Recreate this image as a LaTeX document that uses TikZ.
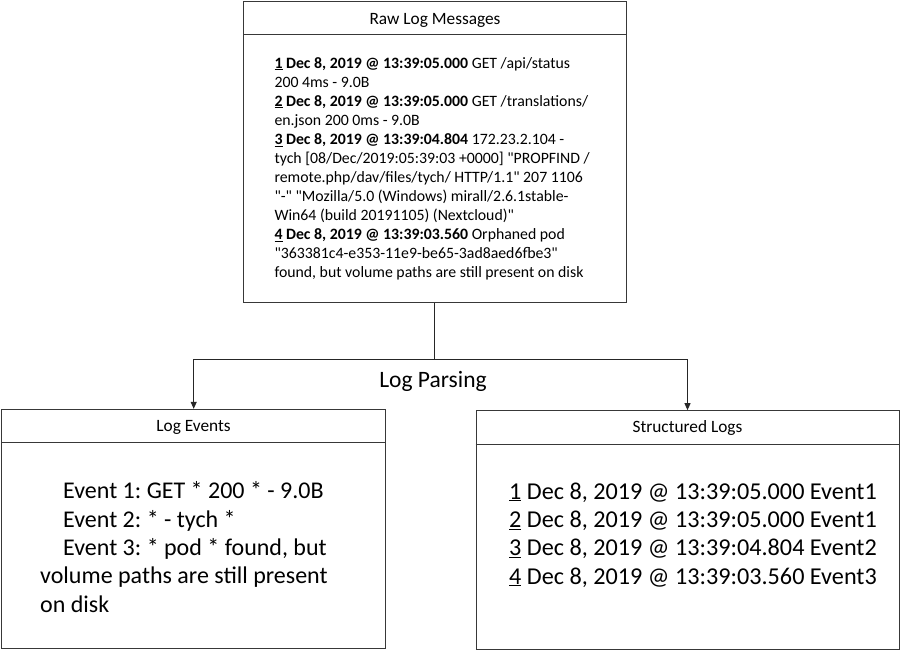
\documentclass[tikz,border=0pt]{standalone}
\usepackage{fontspec}
\setmainfont{Carlito}[Ligatures=TeXOff]
\usetikzlibrary{arrows.meta}
\begin{document}
\frenchspacing
\begin{tikzpicture}[x=1pt,y=-1pt,
  box/.style={draw=black!78, line width=1pt, rectangle, inner sep=0pt},
  divider/.style={draw=black!78, line width=1pt},
  conn/.style={draw=black!85, line width=1pt},
  arr/.style={conn, -{Triangle[length=7pt,width=6pt]}},
  head/.style={inner sep=0pt, anchor=base, font=\fontsize{17.3}{20}\selectfont},
  txt/.style={inner sep=0pt, anchor=base west}]
\useasboundingbox[fill=white] (0,0) rectangle (901,651);

% boxes
\node[box, minimum width=382.5pt, minimum height=301.5pt] (raw) at (434.75,151.75) {};
\node[box, minimum width=384pt, minimum height=239pt] (events) at (193.7,528.8) {};
\node[box, minimum width=423pt, minimum height=239.3pt] (structured) at (687.5,530.3) {};

% header dividers
\draw[divider] ([yshift=-34pt]raw.north west) -- ([yshift=-34pt]raw.north east);
\draw[divider] ([yshift=-34pt]events.north west) -- ([yshift=-34pt]events.north east);
\draw[divider] ([yshift=-34pt]structured.north west) -- ([yshift=-34pt]structured.north east);

% headers
\node[head] (rawhead) at (435,24) {Raw Log Messages};
\node[head] (eventshead) at (193.5,431.7) {Log Events};
\node[head] (structhead) at (687.5,432.3) {Structured Logs};

% raw text
\node[txt] (rawtext) at (274.3,68) {\parbox[t]{352pt}{\fontsize{15.8}{19.09}\selectfont\raggedright\frenchspacing
\underline{\textbf{1}} \textbf{Dec 8, 2019 @ 13:39:05.000} GET /api/status\\
200 4ms - 9.0B\\
\underline{\textbf{2}} \textbf{Dec 8, 2019 @ 13:39:05.000} GET /translations/\\
en.json 200 0ms - 9.0B\\
\underline{\textbf{3}} \textbf{Dec 8, 2019 @ 13:39:04.804} 172.23.2.104 -\\
tych [08/Dec/2019:05:39:03 +0000] "PROPFIND /\\
remote.php/dav/files/tych/ HTTP/1.1" 207 1106\\
"-" "Mozilla/5.0 (Windows) mirall/2.6.1stable-\\
Win64 (build 20191105) (Nextcloud)"\\
\underline{\textbf{4}} \textbf{Dec 8, 2019 @ 13:39:03.560} Orphaned pod\\
"363381c4-e353-11e9-be65-3ad8aed6fbe3"\\
found, but volume paths are still present on disk}};

% events text
\node[txt] (eventstext) at (40,498.7) {\parbox[t]{330pt}{\fontsize{24}{28.4}\selectfont\raggedright\frenchspacing
\hspace*{23pt}Event 1: GET * 200 * - 9.0B\\
\hspace*{23pt}Event 2: * - tych *\\
\hspace*{23pt}Event 3: * pod * found, but\\
volume paths are still present\\
on disk}};

% structured text
\node[txt] (structtext) at (509,499) {\parbox[t]{385pt}{\fontsize{24.2}{28.4}\selectfont\raggedright\frenchspacing
\underline{1} Dec 8, 2019 @ 13:39:05.000 Event1\\
\underline{2} Dec 8, 2019 @ 13:39:05.000 Event1\\
\underline{3} Dec 8, 2019 @ 13:39:04.804 Event2\\
\underline{4} Dec 8, 2019 @ 13:39:03.560 Event3}};

% connectors
\coordinate (split) at (435,359.5);
\draw[conn] (raw.south) -- (raw.south |- split);
\draw[arr] (raw.south |- split) -| (events.north);
\draw[arr] (raw.south |- split) -| (structured.north);

\node[inner sep=0pt, anchor=base, font=\fontsize{23.5}{28}\selectfont] (parsing) at (433,387) {Log Parsing};
\end{tikzpicture}
\end{document}
